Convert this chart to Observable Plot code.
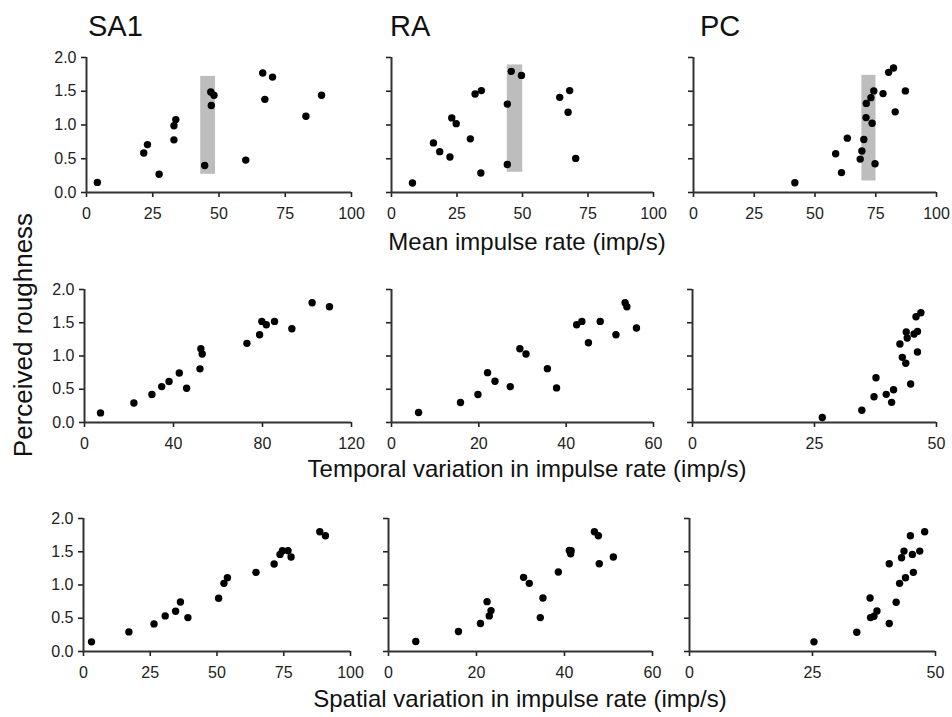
<!DOCTYPE html>
<html><head><meta charset="utf-8">
<script src="https://cdn.jsdelivr.net/npm/d3@7"></script>
<script src="https://cdn.jsdelivr.net/npm/@observablehq/plot@0.6"></script>
<style>
body{margin:0;background:#fff;font-family:"Liberation Sans",Arial,Helvetica,sans-serif;}
#chart{position:relative;width:952px;height:717px;overflow:hidden;background:#fff;}
.lbl{position:absolute;color:#111;white-space:nowrap;line-height:1;}
</style></head><body><div id="chart"></div>
<script>
// ---- labels ----
const columnTitles = ["SA1", "RA", "PC"];
const rowTitles = ["Mean impulse rate (imp/s)", "Temporal variation in impulse rate (imp/s)", "Spatial variation in impulse rate (imp/s)"];
const yTitle = "Perceived roughness";
const yTicks = [0, 0.5, 1.0, 1.5, 2.0];

// ---- x domains / ticks per row & column ----
const meanXMax = [100, 100, 100];
const meanXTicks = [[0,25,50,75,100],[0,25,50,75,100],[0,25,50,75,100]];
const tempXMax = [120, 60, 50];
const tempXTicks = [[0,40,80,120],[0,20,40,60],[0,25,50]];
const spatXMax = [100, 60, 50];
const spatXTicks = [[0,25,50,75,100],[0,20,40,60],[0,25,50]];

// ---- highlighted bands (row 1) : [x1, x2, y1, y2] ----
const sa1Band = [43.1, 48.7, 0.27, 1.72];
const raBand = [44.2, 50.1, 0.30, 1.89];
const pcBand = [69.3, 75.1, 0.17, 1.735];

// ---- data: Mean impulse rate ----
const sa1MeanX = [4.1, 21.6, 23.0, 27.4, 33.0, 33.0, 33.7, 44.6, 46.9, 48.1, 47.1, 60.1, 66.5, 70.2, 67.3, 82.8, 88.7];
const sa1MeanY = [0.15, 0.585, 0.71, 0.27, 0.78, 0.99, 1.08, 0.40, 1.49, 1.44, 1.29, 0.48, 1.77, 1.71, 1.38, 1.13, 1.44];
const raMeanX = [8.0, 16.0, 18.4, 22.3, 23.0, 24.7, 30.1, 31.9, 34.3, 34.1, 44.2, 44.2, 45.7, 49.6, 64.2, 68.0, 67.4, 70.3];
const raMeanY = [0.14, 0.735, 0.605, 0.525, 1.105, 1.02, 0.795, 1.46, 1.51, 0.29, 1.31, 0.415, 1.795, 1.735, 1.41, 1.51, 1.19, 0.505];
const pcMeanX = [41.7, 58.5, 60.9, 63.3, 68.6, 69.3, 70.1, 71.0, 71.1, 73.5, 73.0, 74.2, 74.7, 78.0, 80.3, 82.3, 83.0, 87.2];
const pcMeanY = [0.145, 0.575, 0.295, 0.805, 0.495, 0.615, 0.785, 1.11, 1.32, 1.025, 1.405, 1.505, 0.425, 1.465, 1.78, 1.845, 1.195, 1.505];

// ---- data: Temporal variation ----
const sa1TempX = [7.2, 22.2, 30.3, 34.7, 38.0, 42.6, 45.9, 51.9, 52.3, 52.9, 73.0, 78.7, 79.7, 81.7, 85.4, 93.2, 102.3, 110.1];
const sa1TempY = [0.144, 0.293, 0.42, 0.54, 0.617, 0.745, 0.514, 0.807, 1.11, 1.03, 1.19, 1.32, 1.52, 1.47, 1.52, 1.41, 1.80, 1.74];
const raTempX = [6.2, 15.8, 19.8, 22.0, 23.7, 27.2, 29.4, 30.8, 35.7, 37.8, 42.4, 43.6, 45.1, 47.8, 51.4, 53.5, 53.9, 56.1];
const raTempY = [0.15, 0.30, 0.42, 0.75, 0.62, 0.54, 1.11, 1.03, 0.81, 0.52, 1.47, 1.52, 1.20, 1.52, 1.32, 1.80, 1.74, 1.42];
const pcTempX = [26.6, 34.7, 37.2, 37.6, 39.7, 40.8, 41.2, 42.5, 43.0, 43.7, 43.8, 44.0, 44.7, 45.4, 46.1, 46.1, 45.8, 46.8];
const pcTempY = [0.075, 0.184, 0.388, 0.672, 0.423, 0.303, 0.493, 1.18, 0.98, 0.89, 1.36, 1.27, 0.58, 1.33, 1.37, 1.06, 1.59, 1.65];

// ---- data: Spatial variation ----
const sa1SpatX = [3.0, 17.0, 26.4, 30.6, 34.5, 36.3, 39.1, 50.6, 52.6, 53.9, 64.6, 71.4, 73.6, 74.5, 76.6, 77.75, 88.5, 90.6];
const sa1SpatY = [0.145, 0.295, 0.415, 0.535, 0.605, 0.745, 0.51, 0.80, 1.025, 1.11, 1.19, 1.315, 1.46, 1.515, 1.515, 1.42, 1.80, 1.74];
const raSpatX = [6.2, 15.9, 20.9, 22.4, 22.9, 23.3, 30.7, 32.0, 34.5, 35.1, 38.6, 41.1, 41.5, 41.4, 46.8, 47.7, 47.9, 51.1];
const raSpatY = [0.15, 0.30, 0.42, 0.75, 0.535, 0.615, 1.115, 1.025, 0.51, 0.805, 1.195, 1.52, 1.515, 1.47, 1.80, 1.74, 1.32, 1.42];
const pcSpatX = [25.3, 34.0, 36.7, 36.8, 37.5, 38.1, 40.6, 40.6, 42.0, 42.7, 43.1, 43.6, 43.9, 44.9, 45.3, 45.5, 46.8, 47.8];
const pcSpatY = [0.145, 0.29, 0.805, 0.51, 0.53, 0.61, 1.32, 0.42, 0.74, 1.025, 1.41, 1.51, 1.11, 1.74, 1.46, 1.19, 1.51, 1.80];

// ---- layout (pixel frames of each plot area, per row then column) ----
const frameX = [
  [[86, 351], [391, 653], [693, 936]],
  [[84, 351], [391, 653], [692, 936]],
  [[83, 350], [388, 652], [689, 935]]
];
const frameY = [[57, 192], [289, 422], [518, 651]];

const chart = document.getElementById("chart");
const font = '"Liberation Sans", Arial, Helvetica, sans-serif';

function panel(xs, ys, xMax, ticks, showY, band, col, row) {
  const data = xs.map((x, i) => ({x, y: ys[i]}));
  const ml = 50, mr = 14, mt = 12, mb = 34;
  const [x0, x1] = frameX[row][col], [y0, y1] = frameY[row];
  const w = x1 - x0, h = y1 - y0;
  const marks = [];
  if (band) marks.push(Plot.rect([{x1: band[0], x2: band[1], y1: band[2], y2: band[3]}],
    {x1: "x1", x2: "x2", y1: "y1", y2: "y2", fill: "#bdbdbd"}));
  marks.push(Plot.axisX({ticks, tickSize: 5, tickPadding: 10, label: null, fontSize: 16, strokeWidth: 1.6}));
  marks.push(Plot.axisY({ticks: yTicks, tickSize: 5, tickPadding: 5, label: null, fontSize: 16, strokeWidth: 1.6,
    tickFormat: showY ? d3.format(".1f") : () => ""}));
  marks.push(Plot.ruleY([0], {x1: 0, x2: xMax, stroke: "#333", strokeWidth: 2}));
  marks.push(Plot.ruleX([0], {y1: 0, y2: 2, stroke: "#333", strokeWidth: 2}));
  marks.push(Plot.dot(data, {x: "x", y: "y", r: 3.7, fill: "#000", stroke: null}));
  const svg = Plot.plot({
    width: w + ml + mr, height: h + mt + mb,
    marginLeft: ml, marginRight: mr, marginTop: mt, marginBottom: mb,
    x: {domain: [0, xMax]}, y: {domain: [0, 2]},
    style: {fontFamily: font, fontSize: "16px", color: "#222", background: "transparent", overflow: "visible"},
    marks
  });
  svg.style.position = "absolute";
  svg.style.left = (x0 - ml) + "px";
  svg.style.top = (y0 - mt) + "px";
  chart.appendChild(svg);
}

const rows = [
  {xs: [sa1MeanX, raMeanX, pcMeanX], ys: [sa1MeanY, raMeanY, pcMeanY], max: meanXMax, ticks: meanXTicks, bands: [sa1Band, raBand, pcBand]},
  {xs: [sa1TempX, raTempX, pcTempX], ys: [sa1TempY, raTempY, pcTempY], max: tempXMax, ticks: tempXTicks, bands: [null, null, null]},
  {xs: [sa1SpatX, raSpatX, pcSpatX], ys: [sa1SpatY, raSpatY, pcSpatY], max: spatXMax, ticks: spatXTicks, bands: [null, null, null]}
];
rows.forEach((r, ri) => {
  for (let c = 0; c < 3; c++) panel(r.xs[c], r.ys[c], r.max[c], r.ticks[c], c === 0, r.bands[c], c, ri);
});

function label(text, left, top, size, extra) {
  const d = document.createElement("div");
  d.className = "lbl";
  d.textContent = text;
  d.style.left = left + "px";
  d.style.top = top + "px";
  d.style.fontSize = size + "px";
  if (extra) Object.assign(d.style, extra);
  chart.appendChild(d);
  return d;
}
// column titles
const titleLeft = [88, 390, 700];
columnTitles.forEach((t, i) => label(t, titleLeft[i], 12, 29));
// row (x-axis) titles, centered
const rowTitleCenter = [[527, 230], [527, 457], [520, 687]];
rowTitles.forEach((t, i) => label(t, rowTitleCenter[i][0], rowTitleCenter[i][1], 24, {transform: "translateX(-50%)"}));
// y title, rotated
label(yTitle, 23, 335, 26, {transform: "translate(-50%,-50%) rotate(-90deg)"});
</script></body></html>
